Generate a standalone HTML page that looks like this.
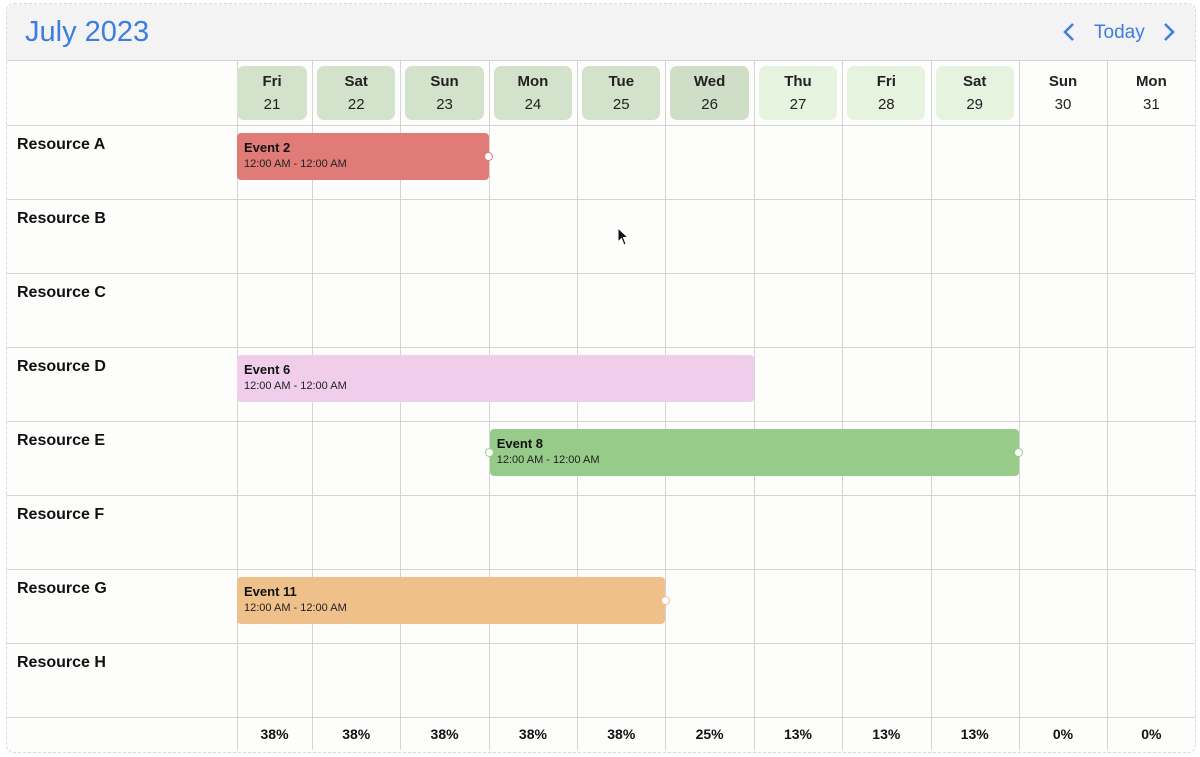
<!DOCTYPE html>
<html><head><meta charset="utf-8">
<style>
body{margin:0;width:1200px;height:757px;background:#fff;font-family:"Liberation Sans",Arial,sans-serif;position:relative;overflow:hidden}
.abs{position:absolute}
.frame{left:6px;top:3px;width:1188px;height:748px;border:1px dashed #d8d8d8;border-radius:8px;background:#fdfdfc;overflow:hidden}
.vl{position:absolute;width:1px;background:#d4d4d4}
.hl{position:absolute;height:1px;background:#d4d4d4}
.res{position:absolute;left:17px;font-weight:bold;font-size:16px;color:#111}
.dh{position:absolute;text-align:center;font-size:15px;color:#222}
.dh b{display:block;margin-top:7px}
.dh span{display:block;margin-top:6px}
.ev{position:absolute;border-radius:4px;height:47px;box-sizing:border-box;padding:7px 7px}
.ev b{display:block;font-size:13px;color:#111}
.ev span{display:block;font-size:11px;color:#222;margin-top:3px}
.dot{position:absolute;width:9px;height:9px;border-radius:50%;background:#fff;border:1px solid;box-sizing:border-box}
.pct{position:absolute;top:726px;font-weight:bold;font-size:14px;text-align:center;color:#111}
</style></head><body>
<div class="abs frame"></div>
<div class="abs" style="left:7px;top:4px;width:1188px;height:56px;background:#f3f3f3;border-radius:8px 8px 0 0"></div>
<div class="abs" style="left:25px;top:16px;font-size:29px;color:#3b7de0">July 2023</div>
<div class="abs" style="left:1062px;top:21px"><svg width="14" height="22"><path d="M11 3 L3 11 L11 19" stroke="#3b7de0" stroke-width="2.5" fill="none"/></svg></div>
<div class="abs" style="left:1094px;top:22px;font-size:19px;color:#3b7de0">Today</div>
<div class="abs" style="left:1162px;top:21px"><svg width="14" height="22"><path d="M3 3 L11 11 L3 19" stroke="#3b7de0" stroke-width="2.5" fill="none"/></svg></div>
<div id="grid"></div>
<svg class="abs" style="left:617px;top:227px" width="14" height="20"><path d="M1 1 L1 15 L4.5 11.5 L7 18 L9 17 L6.5 10.5 L11 10.5 Z" fill="#111" stroke="#fff" stroke-width="1"/></svg>
<script>
const days=["Fri","Sat","Sun","Mon","Tue","Wed","Thu","Fri","Sat","Sun","Mon"];
const dates=[21,22,23,24,25,26,27,28,29,30,31];
const util=[38,38,38,38,38,25,13,13,13,0,0];
const resources=["Resource A","Resource B","Resource C","Resource D","Resource E","Resource F","Resource G","Resource H"];
const evNames=["Event 2","Event 6","Event 8","Event 11"];
const evRes=[0,3,4,6];
const evStart=[0,0,3,0];
const evEnd=[3,6,9,5];
const evColor=["#e07b78","#f0cdeb","#97cb8a","#f0c08a"];
const evDotStart=[false,false,true,false];
const evDotEnd=[true,false,true,true];

const g=document.getElementById('grid');
const X0=223.7,CW=88.35,LEFT=237,TOP=125,RH=74;
const colX=i=>X0+i*CW;
const rowY=r=>TOP+r*RH;
function add(cls,st,name,inter,html){const d=document.createElement('div');d.className=cls;d.style.cssText=st;


if(html)d.innerHTML=html;g.appendChild(d);return d;}
add('hl','left:7px;width:1188px;top:60px','header-line','false');
for(let r=0;r<=resources.length;r++){add('hl',`left:7px;width:1188px;top:${rowY(r)}px`,'row-line','false');}
add('vl',`left:${LEFT}px;top:60px;height:690px`,'column-line','false');
for(let i=1;i<days.length;i++){add('vl',`left:${Math.round(colX(i))}px;top:60px;height:690px`,'column-line','false');}
days.forEach((d,i)=>{
 const x=Math.max(colX(i)+5,LEFT),w=colX(i+1)-5-x;
 const u=util[i];
 const bg=u>=38?'#d3e3cb':u>=25?'#cfdec7':u>0?'#e6f3df':'transparent';
 add('dh',`left:${x}px;width:${w}px;top:66px;height:54px;border-radius:7px;background:${bg}`,'day-header-'+dates[i],'false',`<b>${d}</b><span>${dates[i]}</span>`);
 const cx=Math.max(colX(i),LEFT);
 add('pct',`left:${cx}px;width:${colX(i+1)-cx}px`,'utilization-'+dates[i],'false',u+'%');
});
resources.forEach((r,i)=>add('res',`top:${rowY(i)+11}px`,'resource-label','false',r));
evNames.forEach((n,k)=>{
 const x=Math.max(colX(evStart[k]),LEFT)+(evStart[k]>0?1:0);
 const x2=colX(evEnd[k]);
 const y=rowY(evRes[k])+8;
 add('ev',`left:${x}px;top:${y}px;width:${x2-x}px;background:${evColor[k]}`,'event-bar','true',`<b>${n}</b><span>12:00 AM - 12:00 AM</span>`);
 if(evDotStart[k])add('dot',`left:${x-4.5}px;top:${y+19}px;border-color:${evColor[k]}`,'resize-handle-start','true');
 if(evDotEnd[k])add('dot',`left:${x2-4.5}px;top:${y+19}px;border-color:${evColor[k]}`,'resize-handle-end','true');
});
</script>
</body></html>
